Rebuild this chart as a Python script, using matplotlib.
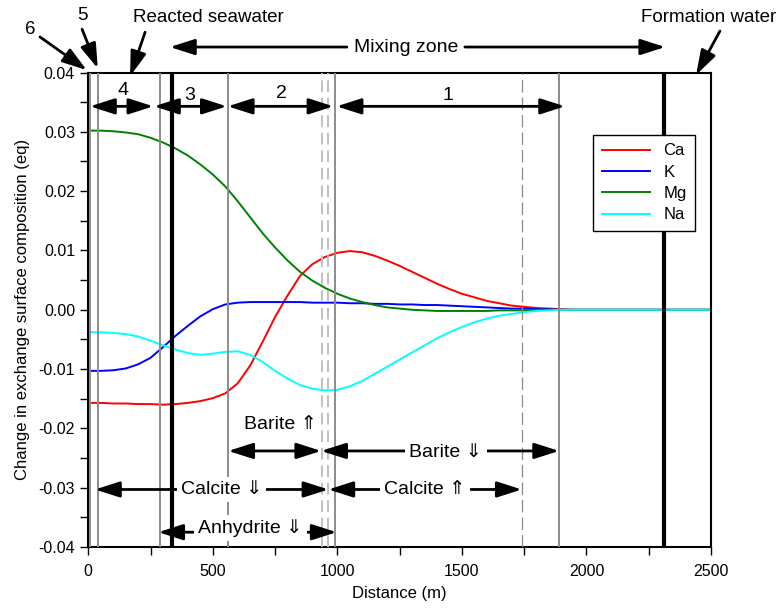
import matplotlib
matplotlib.use("Agg")
import matplotlib.pyplot as plt
from matplotlib.ticker import MultipleLocator, FormatStrFormatter

plt.rcParams['font.family'] = ['Liberation Sans', 'DejaVu Sans']
plt.rcParams['axes.unicode_minus'] = False

# distance (m) and change in exchange composition (eq)
distance = [0, 50, 100, 150, 200, 250, 300, 350, 400, 450, 500, 550, 600, 650,
            700, 750, 800, 850, 900, 950, 1000, 1050, 1100, 1150, 1200, 1250,
            1300, 1350, 1400, 1450, 1500, 1550, 1600, 1650, 1700, 1750, 1800,
            1850, 1900, 1950, 2000, 2500]
ca = [-0.0157, -0.0157, -0.0158, -0.0158, -0.0159, -0.0159, -0.0160, -0.0159,
      -0.0157, -0.0154, -0.0149, -0.0141, -0.0124, -0.0094, -0.0054, -0.0012,
      0.0024, 0.0057, 0.0077, 0.0089, 0.0096, 0.0099, 0.0097, 0.0091, 0.0083,
      0.0074, 0.0064, 0.0054, 0.0044, 0.0035, 0.0027, 0.0021, 0.0015, 0.0011,
      0.0007, 0.0005, 0.0003, 0.0002, 0.0001, 0.0, 0.0, 0.0]
k = [-0.0103, -0.0103, -0.0102, -0.0099, -0.0092, -0.0081, -0.0063, -0.0044,
     -0.0027, -0.0011, 0.0001, 0.0009, 0.0012, 0.0013, 0.0013, 0.0013, 0.0013,
     0.0013, 0.0012, 0.0012, 0.0012, 0.0011, 0.0011, 0.0010, 0.0010, 0.0009,
     0.0009, 0.0008, 0.0008, 0.0007, 0.0006, 0.0005, 0.0004, 0.0003, 0.0002,
     0.0002, 0.0001, 0.0001, 0.0, 0.0, 0.0, 0.0]
mg = [0.0302, 0.0302, 0.0301, 0.0299, 0.0296, 0.0290, 0.0282, 0.0272, 0.0260,
      0.0245, 0.0228, 0.0208, 0.0183, 0.0156, 0.0129, 0.0105, 0.0083, 0.0064,
      0.0049, 0.0037, 0.0027, 0.0019, 0.0013, 0.0008, 0.0004, 0.0002, 0.0,
      -0.0001, -0.0002, -0.0002, -0.0002, -0.0002, -0.0002, -0.0001, -0.0001,
      -0.0001, 0.0, 0.0, 0.0, 0.0, 0.0, 0.0]
na = [-0.0038, -0.0038, -0.0039, -0.0041, -0.0045, -0.0052, -0.0060, -0.0067,
      -0.0073, -0.0076, -0.0074, -0.0071, -0.0070, -0.0076, -0.0088, -0.0103,
      -0.0116, -0.0127, -0.0133, -0.0136, -0.0135, -0.0129, -0.0120, -0.0108,
      -0.0096, -0.0084, -0.0072, -0.0060, -0.0048, -0.0038, -0.0029, -0.0021,
      -0.0015, -0.0010, -0.0007, -0.0004, -0.0002, -0.0001, 0.0, 0.0, 0.0, 0.0]

series = ["Ca", "K", "Mg", "Na"]
colors = ["#ff0000", "#0000ff", "#008000", "#00ffff"]

# zone boundaries (m)
solid_bounds = [7, 37, 288, 562, 990, 1888]
light_dashed_bounds = [940, 962]
dark_dashed_bounds = [1742]
thick_bounds = [338, 2313]

# zone arrows along the top: (start, end, label, label x, label y)
zones = [(7, 261, "4", 138, 0.0370), (264, 556, "3", 408, 0.0362),
         (560, 984, "2", 774, 0.0365), (997, 1914, "1", 1445, 0.0362)]
zone_y = 0.0343

# mineral arrows: (start, end, y, label, label x, label y, boxed)
minerals = [(562, 935, -0.0238, "Barite \u21d1", 770, -0.0193, False),
            (935, 1890, -0.0238, "Barite \u21d3", 1436, -0.0240, True),
            (27, 964, -0.0303, "Calcite \u21d3", 535, -0.0303, True),
            (964, 1740, -0.0303, "Calcite \u21d1", 1352, -0.0303, True),
            (281, 997, -0.0375, "Anhydrite \u21d3", 652, -0.0368, True)]

fig = plt.figure(figsize=(7.82, 6.08), dpi=100)
ax = fig.add_axes([0.1129, 0.1003, 0.7963, 0.7804])

for name, vals, c in zip(series, [ca, k, mg, na], colors):
    ax.plot(distance, vals, color=c, lw=1.4, label=name, zorder=2)

for x in solid_bounds:
    ax.axvline(x, color="#8c8c8c", lw=1.4, zorder=3)
for x in light_dashed_bounds:
    ax.axvline(x, color="#c0c0c0", lw=1.4, ls=(0, (6, 3)), zorder=3)
for x in dark_dashed_bounds:
    ax.axvline(x, color="#8c8c8c", lw=0.9, ls=(0, (10, 4)), zorder=3)
for x in thick_bounds:
    ax.axvline(x, color="black", lw=3, zorder=3)

arrow2 = dict(arrowstyle="<|-|>,head_length=1.5,head_width=0.48",
              mutation_scale=10, lw=2, color="black", shrinkA=0, shrinkB=0)
arrow1 = dict(arrowstyle="-|>,head_length=1.5,head_width=0.48",
              mutation_scale=10, lw=2, color="black", shrinkA=0, shrinkB=0)

for x0, x1, lab, lx, ly in zones:
    ax.annotate("", xy=(x1, zone_y), xytext=(x0, zone_y), arrowprops=arrow2,
                annotation_clip=False, zorder=5)
    ax.text(lx, ly, lab, fontsize=14, ha="center", va="center", zorder=6)

for x0, x1, y, lab, lx, ly, boxed in minerals:
    ax.annotate("", xy=(x1, y), xytext=(x0, y), arrowprops=arrow2,
                annotation_clip=False, zorder=5)
    bb = dict(facecolor="white", edgecolor="none", pad=3) if boxed else None
    ax.text(lx, ly, lab, fontsize=14, ha="center", va="center", bbox=bb,
            zorder=7)

# mixing zone arrow above the plot
ax.text(1275, 0.0443, "Mixing zone", fontsize=14, ha="center", va="center")
ax.annotate("", xy=(328, 0.0443), xytext=(1038, 0.0443), arrowprops=arrow1,
            annotation_clip=False)
ax.annotate("", xy=(2316, 0.0443), xytext=(1512, 0.0443), arrowprops=arrow1,
            annotation_clip=False)

# callouts: (text, text x, text y, ha, arrow start, arrow tip)
callouts = [("Reacted seawater", 481, 0.0493, "center", 228, 0.0468, 168, 0.0394),
            ("5", -25, 0.0496, "center", -25, 0.0473, 38, 0.0407),
            ("6", -234, 0.0472, "center", -194, 0.0460, -6, 0.0404),
            ("Formation water", 2762, 0.0493, "right", 2536, 0.0470, 2440, 0.0396)]
for lab, tx, ty, ha, sx, sy, ex, ey in callouts:
    ax.text(tx, ty, lab, fontsize=13.5, ha=ha, va="center", clip_on=False)
    ax.annotate("", xy=(ex, ey), xytext=(sx, sy), arrowprops=arrow1,
                annotation_clip=False)

ax.set_xlim(0, 2500)
ax.set_ylim(-0.04, 0.04)
ax.xaxis.set_major_locator(MultipleLocator(500))
ax.xaxis.set_minor_locator(MultipleLocator(250))
ax.yaxis.set_major_locator(MultipleLocator(0.01))
ax.yaxis.set_minor_locator(MultipleLocator(0.005))
ax.yaxis.set_major_formatter(FormatStrFormatter("%.2f"))
ax.tick_params(which="both", direction="out", length=6, width=1,
               labelsize=11.5)
ax.tick_params(axis="x", pad=6)
for s in ax.spines.values():
    s.set_linewidth(1.5)

ax.set_xlabel("Distance (m)", fontsize=12, labelpad=5)
ax.set_ylabel("Change in exchange surface composition (eq)", fontsize=12,
              labelpad=6)

leg = ax.legend(loc="upper right", bbox_to_anchor=(0.974, 0.868),
                borderaxespad=0, fontsize=12, handlelength=2.9,
                labelspacing=0.38, fancybox=False, framealpha=1,
                edgecolor="black", borderpad=0.5, handletextpad=0.8)
leg.get_frame().set_linewidth(1)
leg.set_zorder(8)

fig.savefig("out.png", dpi=100)
